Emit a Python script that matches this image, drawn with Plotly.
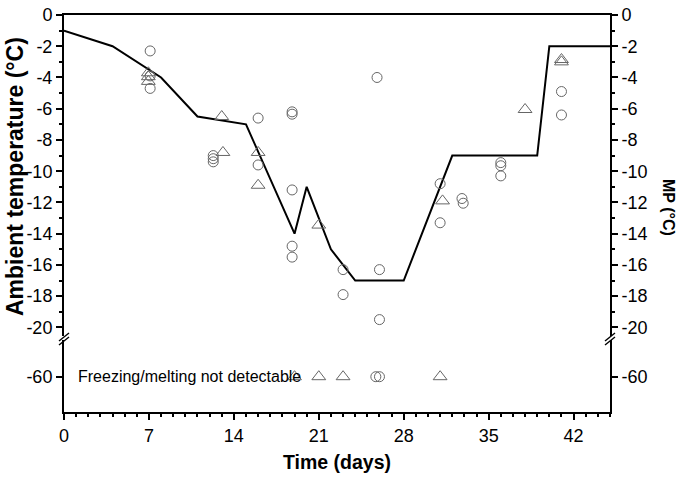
import plotly.graph_objects as go

# ---------------- data ----------------
amb_days = [0, 4, 8, 11, 15, 19, 20, 22, 24, 28, 32, 39, 40, 45]
amb_vals = [-1, -2, -4, -6.5, -7, -14, -11, -15, -17, -17, -9, -9, -2, -2]

circ_days = [7.1, 7.1, 7.1, 12.3, 12.3, 12.3, 16.0, 16.0, 18.8, 18.8, 18.8, 18.8, 18.8,
             23.0, 23.0, 25.8, 26.0, 26.0, 31.0, 31.0, 32.8, 32.9, 36.0, 36.0, 36.0, 41.0, 41.0]
circ_vals = [-2.3, -3.9, -4.7, -9.0, -9.2, -9.4, -6.6, -9.6, -6.2, -6.35, -11.2, -14.8, -15.5,
             -16.3, -17.9, -4.0, -16.3, -19.5, -10.8, -13.3, -11.75, -12.05, -9.45, -9.65, -10.3, -4.9, -6.4]

tri_days = [6.95, 6.95, 6.95, 13.0, 13.1, 16.0, 16.0, 21.0, 31.2, 38.0, 41.0, 41.0]
tri_vals = [-3.7, -3.95, -4.25, -6.5, -8.8, -8.8, -10.9, -13.45, -11.9, -6.05, -2.85, -3.0]

nd_tri_days = [19.0, 21.0, 23.0, 31.0]
nd_circ_days = [25.7, 26.0]
nd_value = -60

x_ticks = [0, 7, 14, 21, 28, 35, 42]
upper_ticks = [0, -2, -4, -6, -8, -10, -12, -14, -16, -18, -20]
upper_labels = ["0", "-2", "-4", "-6", "-8", "-10", "-12", "-14", "-16", "-18", "-20"]
lower_ticks = [-60]
lower_labels = ["-60"]

# ---------------- layout geometry ----------------
W, H = 683, 477
L, R, T, B = 64, 73, 15, 65
PW, PH = W - L - R, H - T - B
up_bottom_px, low_top_px = 336, 340
d_up = (H - B - up_bottom_px) / PH
d_low = (H - B - low_top_px) / PH

def px(xp):
    return (xp - L) / PW

def py(yp):
    return (H - B - yp) / PH

FONT = "Liberation Sans, Arial, sans-serif"
tickfont = dict(family=FONT, size=18, color="black")
mk_col = "#666666"

fig = go.Figure()
fig.add_trace(go.Scatter(x=amb_days, y=amb_vals, mode="lines",
                         line=dict(color="black", width=2),
                         xaxis="x2", yaxis="y3", showlegend=False))
fig.add_trace(go.Scatter(x=circ_days, y=circ_vals, mode="markers",
                         marker=dict(symbol="circle-open", size=10, color=mk_col,
                                     line=dict(width=1, color=mk_col)),
                         xaxis="x2", yaxis="y4", showlegend=False))
fig.add_trace(go.Scatter(x=tri_days, y=tri_vals, mode="markers",
                         marker=dict(symbol="triangle-up-open", size=12, color=mk_col,
                                     line=dict(width=1, color=mk_col)),
                         xaxis="x2", yaxis="y4", showlegend=False))
fig.add_trace(go.Scatter(x=nd_tri_days, y=[nd_value] * len(nd_tri_days), mode="markers",
                         marker=dict(symbol="triangle-up-open", size=12, color=mk_col,
                                     line=dict(width=1, color=mk_col)),
                         xaxis="x", yaxis="y2", showlegend=False))
fig.add_trace(go.Scatter(x=nd_circ_days, y=[nd_value] * len(nd_circ_days), mode="markers",
                         marker=dict(symbol="circle-open", size=10, color=mk_col,
                                     line=dict(width=1, color=mk_col)),
                         xaxis="x", yaxis="y2", showlegend=False))

axis_common = dict(showgrid=False, zeroline=False, showline=True, linecolor="black",
                   linewidth=2, tickcolor="black", tickwidth=1.5, tickfont=tickfont,
                   automargin=False)

up_range = [-(up_bottom_px - T) / 15.62, 0]
low_range = [-65.04, -54.76]
minor_y = dict(dtick=1, tick0=0, ticks="outside", ticklen=3, tickcolor="black", tickwidth=1.5)

fig.update_layout(
    width=W, height=H, margin=dict(l=L, r=R, t=T, b=B),
    paper_bgcolor="white", plot_bgcolor="white",
    xaxis=dict(domain=[0, 1], anchor="y", range=[0, 45], tickvals=x_ticks,
               ticktext=[str(v) for v in x_ticks],
               ticks="outside", ticklen=6,
               minor=dict(dtick=1, tick0=0, ticks="outside", ticklen=3,
                          tickcolor="black", tickwidth=1.5),
               **axis_common),
    xaxis2=dict(domain=[0, 1], anchor="y3", matches="x", range=[0, 45], side="top",
                showticklabels=False, ticks="", showgrid=False, zeroline=False,
                showline=True, linecolor="black", linewidth=2),
    yaxis=dict(domain=[0, d_low], anchor="x", range=low_range, tickvals=lower_ticks,
               ticktext=lower_labels, ticks="outside", ticklen=6, **axis_common),
    yaxis2=dict(anchor="x", overlaying="y", side="right", range=low_range,
                tickvals=lower_ticks, ticktext=lower_labels, ticks="outside", ticklen=6,
                **axis_common),
    yaxis3=dict(domain=[d_up, 1], anchor="x2", range=up_range, tickvals=upper_ticks,
                ticktext=upper_labels, ticks="outside", ticklen=6, minor=minor_y,
                **axis_common),
    yaxis4=dict(anchor="x2", overlaying="y3", side="right", range=up_range,
                tickvals=upper_ticks, ticktext=upper_labels, ticks="outside", ticklen=6,
                minor=minor_y, **axis_common),
)

# axis titles and note
fig.add_annotation(text="<b>Ambient temperature (°C)</b>", xref="paper", yref="paper",
                   x=px(15), y=py(177), xanchor="center", yanchor="middle",
                   textangle=-90, showarrow=False,
                   font=dict(family=FONT, size=23, color="black"))
fig.add_annotation(text="<b>MP (°C)</b>", xref="paper", yref="paper",
                   x=px(669), y=py(207), xanchor="center", yanchor="middle",
                   textangle=90, showarrow=False,
                   font=dict(family=FONT, size=16, color="black"))
fig.add_annotation(text="<b>Time (days)</b>", xref="paper", yref="paper",
                   x=px(337), y=py(462), xanchor="center", yanchor="middle",
                   showarrow=False,
                   font=dict(family=FONT, size=19.5, color="black"))
fig.add_annotation(text="Freezing/melting not detectable", xref="paper", yref="y",
                   x=px(76), y=nd_value, xanchor="left", yanchor="middle", showarrow=False,
                   font=dict(family=FONT, size=16, color="black"))

# axis break marks
for xb in (L, W - R):
    for dy in (0, 4):
        fig.add_shape(type="line", xref="paper", yref="paper",
                      x0=px(xb - 5), y0=py(341 + dy), x1=px(xb + 5), y1=py(333 + dy),
                      line=dict(color="black", width=1.5))

fig.write_html("out.html", config={"displayModeBar": False},
               post_script="document.body.style.margin='0';document.body.style.overflow='hidden';")
